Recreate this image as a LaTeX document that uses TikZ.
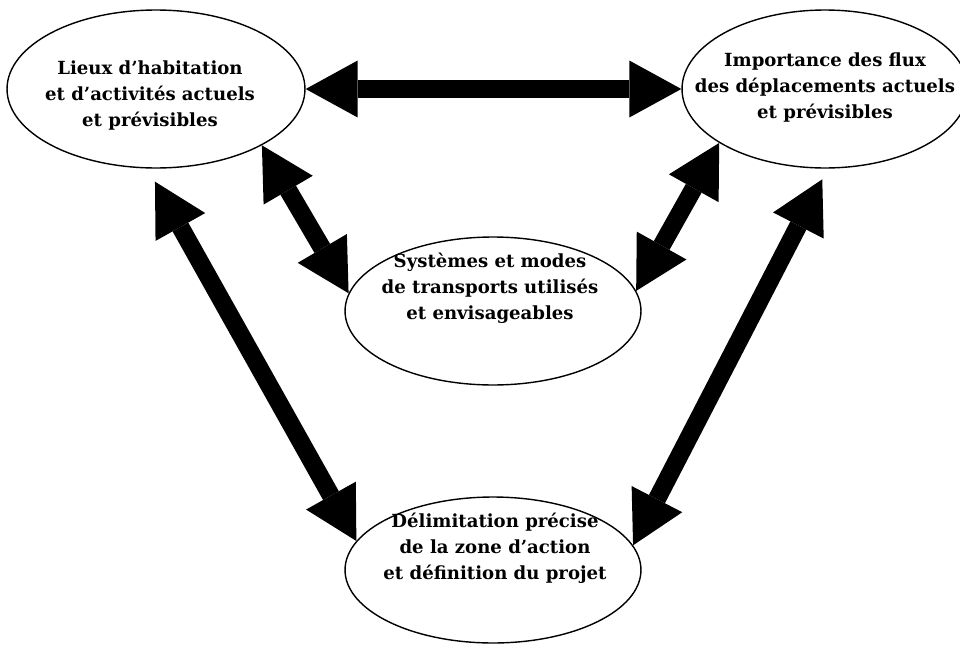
\documentclass[tikz,border=0pt]{standalone}
\usepackage{fontspec}
\setmainfont{DejaVu Serif}
\usetikzlibrary{shapes.geometric,arrows.meta}
\begin{document}
\begin{tikzpicture}[x=0.02cm,y=-0.02cm,
	>={Triangle[width=1.14cm,length=1.04cm,line width=0pt]},
	bulle/.style={draw,ellipse,line width=0.8pt,inner sep=0pt},
	texte/.style={align=center,inner sep=0pt,font=\fontsize{10.3}{14.8}\selectfont\bfseries},
	fleche/.style={line width=0.36cm,<->}]
	\useasboundingbox (0,0) rectangle (960,646);
	\node [bulle,minimum width=5.96cm,minimum height=3.16cm] (lieux) at (156,89) {};
	\node [bulle,minimum width=5.72cm,minimum height=3.16cm] (flux) at (825,89) {};
	\node [bulle,minimum width=5.92cm,minimum height=2.96cm] (sys) at (493,311) {};
	\node [bulle,minimum width=5.92cm,minimum height=2.92cm] (delim) at (493,570) {};
	\node [texte] (lieuxtxt) at (150,96) {Lieux d'habitation\\et d'activités actuels\\et prévisibles};
	\node [texte] (fluxtxt) at (825,88) {Importance des flux\\des déplacements actuels\\et prévisibles};
	\node [texte] (systxt) at (490,288) {Systèmes et modes\\de transports utilisés\\et envisageables};
	\node [texte] (delimtxt) at (495,548) {Délimitation précise\\de la zone d'action\\et définition du projet};
	\draw [fleche] (lieux.east) to (flux.west);
	\draw [fleche] (lieux.-28) to (sys.173);
	\draw [fleche] (flux.207) to (sys.8);
	\draw [fleche,shorten <=0.3cm] (lieux.-96) to (delim.168);
	\draw [fleche,shorten <=0.24cm] (flux.-88) to (delim.10);
\end{tikzpicture}
\end{document}
